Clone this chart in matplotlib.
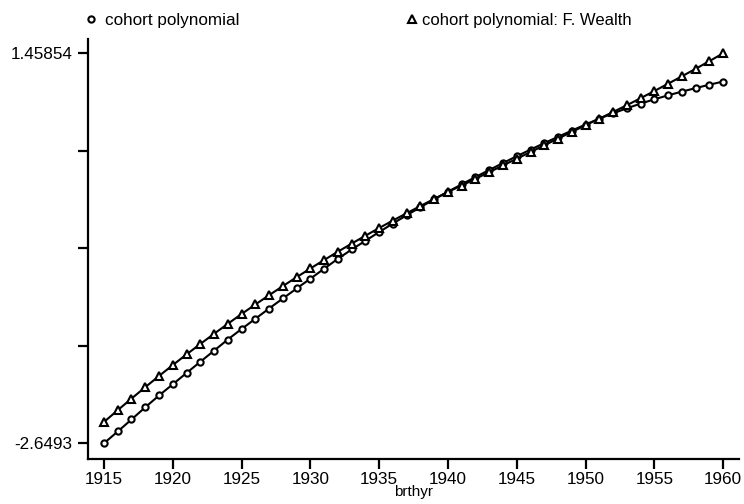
import numpy as np
import matplotlib
matplotlib.use("Agg")
import matplotlib.pyplot as plt
from matplotlib.lines import Line2D

# ======================================================================
#    Data
# ======================================================================
brthyr = np.arange(1915, 1961)

cohort_poly = [
    -2.6493, -2.5250, -2.3986, -2.2701, -2.1458, -2.0279, -1.9088, -1.7909,
    -1.6739, -1.5560, -1.4454, -1.3379, -1.2295, -1.1241, -1.0188, -0.9156,
    -0.8103, -0.7060, -0.6080, -0.5164, -0.4237, -0.3342, -0.2467, -0.1625,
    -0.0793, 0.0008, 0.0787, 0.1556, 0.2294, 0.3031, 0.3747, 0.4442,
    0.5127, 0.5790, 0.6443, 0.7086, 0.7697, 0.8266, 0.8792, 0.9287,
    0.9740, 1.0162, 1.0551, 1.0920, 1.1278, 1.1615,
]

cohort_poly_fw = [
    -2.4249, -2.3007, -2.1785, -2.0584, -1.9404, -1.8256, -1.7129, -1.6034,
    -1.4959, -1.3906, -1.2874, -1.1873, -1.0894, -0.9935, -0.8998, -0.8081,
    -0.7186, -0.6312, -0.5459, -0.4627, -0.3816, -0.3026, -0.2257, -0.1498,
    -0.0751, -0.0013, 0.0661, 0.1367, 0.2072, 0.2778, 0.3484, 0.4189,
    0.4895, 0.5601, 0.6306, 0.7012, 0.7707, 0.8403, 0.9119, 0.9856,
    1.0615, 1.1383, 1.2163, 1.2953, 1.3764, 1.45854,
]

series_labels = ["cohort polynomial", "cohort polynomial: F. Wealth"]
y_tick_labels = ["-2.6493", "", "", "", "1.45854"]
x_ticks = np.arange(1915, 1961, 5)

# ======================================================================
#    Plot
# ======================================================================
plt.rcParams["font.family"] = ["Liberation Sans", "DejaVu Sans"]

fig = plt.figure(figsize=(7.44, 5.04), dpi=100)
ax = fig.add_axes([88 / 744, 1 - 459 / 504, (739 - 88) / 744, (459 - 39) / 504])

circ_style = dict(marker="o", ms=4.5, mfc="white", mec="black", mew=1.5)
tri_style = dict(marker="^", ms=6.3, mfc="white", mec="black", mew=1.5)

ax.plot(brthyr, cohort_poly, color="black", lw=1.5, **circ_style)
ax.plot(brthyr, cohort_poly_fw, color="black", lw=1.5, **tri_style)

ax.set_xlim(1913.84, 1961.15)
ax.set_ylim(-2.8147, 1.6092)

y_lo, y_hi = min(cohort_poly), max(cohort_poly_fw)
ax.set_yticks(np.linspace(y_lo, y_hi, 5))
ax.set_yticklabels(y_tick_labels)
ax.set_xticks(x_ticks)

for side in ["top", "right"]:
    ax.spines[side].set_visible(False)
for side in ["left", "bottom"]:
    ax.spines[side].set_linewidth(1.6)

ax.tick_params(axis="both", direction="out", length=7.5, width=1.6,
               labelsize=12.3, color="black")
ax.tick_params(axis="x", pad=1.5)
ax.tick_params(axis="y", pad=3.5)

ax.set_xlabel("brthyr", fontsize=11, labelpad=-1)

# legend, Stata style: markers only, two items across the top
h1 = Line2D([], [], ls="none", **circ_style)
h2 = Line2D([], [], ls="none", **tri_style)
fig.legend([h1], [series_labels[0]], loc="center left",
           bbox_to_anchor=(86 / 744, 1 - 20 / 504), frameon=False,
           fontsize=12.3, handlelength=0.6, handletextpad=0.5,
           borderaxespad=0, borderpad=0)
fig.legend([h2], [series_labels[1]], loc="center left",
           bbox_to_anchor=(407 / 744, 1 - 20 / 504), frameon=False,
           fontsize=12, handlelength=0.6, handletextpad=0.3,
           borderaxespad=0, borderpad=0)

fig.savefig("out.png", dpi=100)
